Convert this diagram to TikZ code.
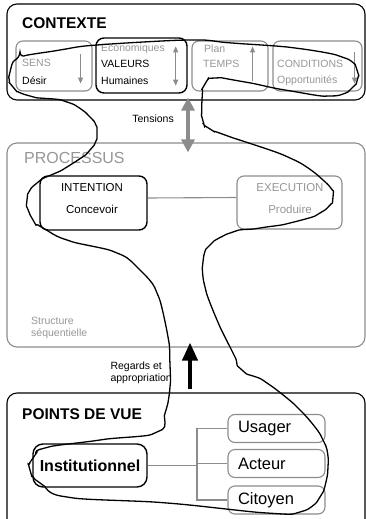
\documentclass[tikz,border=0pt]{standalone}
\usepackage{fontspec}
\setmainfont{Liberation Sans}
\usetikzlibrary{arrows.meta}
\definecolor{boxgray}{RGB}{140,140,140}
\definecolor{txtgray}{RGB}{150,150,150}

\begin{document}
\begin{tikzpicture}[x=1pt, y=-1pt,
  zone/.style={draw, line width=1.1pt, rounded corners=10pt, minimum width=358pt, inner sep=0pt},
  cbox/.style={draw=boxgray, line width=1.1pt, rounded corners=7pt, minimum height=50pt, inner sep=0pt},
  hbox/.style={draw, line width=1.4pt, rounded corners=8pt, inner sep=0pt},
  vbox/.style={draw=boxgray, line width=1.1pt, rounded corners=7pt, text width=77pt, inner xsep=10pt,
    inner ysep=0pt, minimum height=28pt, align=left, font=\fontsize{16.5}{19}\selectfont},
  lbl/.style={anchor=west, inner sep=0pt, font=\fontsize{10.5}{12.5}\selectfont},
  glbl/.style={lbl, text=txtgray},
  mid/.style={inner sep=0pt, font=\fontsize{11.5}{13}\selectfont},
  title/.style={anchor=west, inner sep=0pt, font=\bfseries\fontsize{15.5}{18}\selectfont},
  sarrow/.style={draw=boxgray, line width=1.2pt, -{Triangle[width=5pt,length=6pt]}},
  tensarrow/.style={draw=boxgray, line width=4pt, {Triangle[width=13pt,length=13pt]}-{Triangle[width=13pt,length=13pt]}},
  tree/.style={draw=boxgray, line width=1.1pt}]
  \useasboundingbox (0,0) rectangle (366,519);

  % contexte
  \node[zone, minimum height=96pt] (contexte) at (186,52) {};
  \node[title] (ctitle) at (22,23) {CONTEXTE};
  \node[cbox, minimum width=76pt] (sens) at (54,66) {};
  \node[hbox, minimum width=91pt, minimum height=55pt] (valeurs) at (141.5,65.5) {};
  \node[cbox, minimum width=76pt] (temps) at (230,66) {};
  \node[cbox, minimum width=89pt] (conditions) at (317.5,66) {};
  \node[glbl] (sens1) at (22,63) {SENS};
  \node[lbl] (sens2) at (22,81) {Désir};
  \node[glbl] (val1) at (101,49) {Economiques};
  \node[lbl] (val2) at (101,64) {VALEURS};
  \node[lbl] (val3) at (101,81) {Humaines};
  \node[glbl] (tps1) at (204,49) {Plan};
  \node[glbl] (tps2) at (203,64) {TEMPS};
  \node[glbl] (cond1) at (277,64) {CONDITIONS};
  \node[glbl] (cond2) at (277,81) {Opportunités};
  \draw[sarrow] ([xshift=-12pt,yshift=-14pt]sens.north east) -- ([xshift=-12pt,yshift=8pt]sens.south east);
  \draw[sarrow, {Triangle[width=5pt,length=6pt]}-{Triangle[width=5pt,length=6pt]}]
    ([xshift=-12pt,yshift=-9pt]valeurs.north east) -- ([xshift=-12pt,yshift=8pt]valeurs.south east);
  \draw[sarrow] ([xshift=-16pt,yshift=11pt]temps.south east) -- ([xshift=-16pt,yshift=-6pt]temps.north east);
  \draw[sarrow] ([xshift=-8pt,yshift=-12pt]conditions.north east) -- ([xshift=-8pt,yshift=8pt]conditions.south east);

  % processus
  \node[zone, draw=boxgray, minimum height=204pt] (processus) at (186,245) {};
  \draw[tensarrow] ([xshift=2pt,yshift=3pt]contexte.south) -- ([xshift=2pt,yshift=-10pt]processus.north);
  \node[lbl, anchor=east] (tensions) at (174,119) {Tensions};
  \node[inner sep=0pt, anchor=west, text=txtgray, font=\fontsize{16}{19}\selectfont] (ptitle) at (24,158) {PROCESSUS};
  \node[hbox, minimum width=107pt, minimum height=54pt] (intention) at (93.5,203) {};
  \node[cbox, minimum width=105pt, minimum height=53pt] (execution) at (289.5,202.5) {};
  \node[mid] (int1) at (92,188) {INTENTION};
  \node[mid] (int2) at (92,209) {Concevoir};
  \node[mid, text=txtgray] (exe1) at (290,188) {EXECUTION};
  \node[mid, text=txtgray] (exe2) at (290,209) {Produire};
  \draw[tree] ([yshift=5pt]intention.east) -- ([yshift=5pt]execution.west);
  \node[glbl, align=left] (structure) at (31,328) {Structure\\séquentielle};

  % points de vue
  \node[zone, minimum height=140pt] (pdv) at (186,463) {};
  \draw[line width=4pt, -{Triangle[width=15pt,length=18pt]}]
    ([xshift=4pt,yshift=3pt]pdv.north) -- ([xshift=4pt,yshift=5pt]processus.south);
  \node[lbl, anchor=east, align=left] (regards) at (172,373) {Regards et\\appropriation};
  \node[title] (vtitle) at (22,414) {POINTS DE VUE};
  \node[hbox, rounded corners=10pt, minimum width=114pt, minimum height=43pt,
    font=\bfseries\fontsize{16}{19}\selectfont] (inst) at (90,465.5) {Institutionnel};
  \node[vbox] (usager) at (276.5,428.5) {Usager};
  \node[vbox] (acteur) at (276.5,463.5) {Acteur};
  \node[vbox] (citoyen) at (276.5,500) {Citoyen};
  \coordinate (fork) at (197,465.5);
  \draw[tree] (inst.east) -- (fork);
  \draw[tree] (usager.west) -- (usager.west -| fork) -- (citoyen.west -| fork) -- (citoyen.west);
  \draw[tree] (acteur.west) -- (acteur.west -| fork);

  % trace
  \draw[line width=1.3pt, rounded corners=6pt] plot[smooth cycle, tension=0.55] coordinates {
    (10,72) (20,58) (60,50) (97,45) (190,40) (232,43) (295,48) (342,57) (357,70)
    (352,88) (330,96) (285,90) (245,82) (215,78) (205,84) (202,100) (203,121)
    (210,129) (225,135) (290,158) (323,180) (333,197) (320,213) (290,223)
    (260,228) (233,232) (210,245) (203,262) (205,287) (217,320) (233,353)
    (242,370) (267,383) (300,410) (323,440) (328,467) (320,497) (300,512)
    (267,513) (167,503) (67,497) (40,483) (30,470) (33,458) (45,448) (100,440)
    (157,432) (166,410) (170,387) (170,365) (168,337) (157,293) (140,270)
    (117,253) (67,240) (43,228) (33,220) (27,200) (37,183) (67,167) (90,150)
    (97,133) (90,117) (67,102) (30,96) (13,87)};
\end{tikzpicture}
\end{document}
